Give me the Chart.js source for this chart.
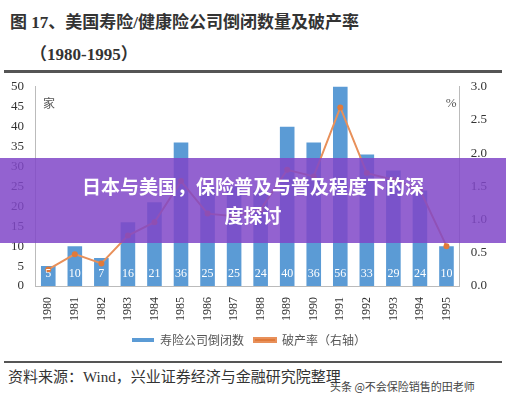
<!DOCTYPE html>
<html><head><meta charset="utf-8">
<script src="https://cdn.jsdelivr.net/npm/chart.js@4"></script>
<style>
body{margin:0;width:506px;height:400px;background:#fff;position:relative;overflow:hidden;font-family:"Liberation Serif","Noto Sans CJK SC",serif;}
#t1{position:absolute;left:10px;top:8px;font-size:17px;font-weight:bold;color:#333;}
#t2{position:absolute;left:30px;top:40px;font-size:17px;font-weight:bold;color:#333;}
.hr{position:absolute;left:4px;width:498px;height:3px;background:#555;}
#wrap{position:absolute;left:0;top:76px;width:506px;height:280px;}
#src{position:absolute;left:8px;top:365px;font-size:15px;color:#333;}
#wm{position:absolute;left:330px;top:378px;font-size:11px;color:#444;font-family:"Noto Sans CJK SC";}
#ban{position:absolute;left:0;top:158px;width:506px;height:85px;background:rgba(128,70,200,0.85);color:#fff;font-family:"Noto Sans CJK SC";font-weight:bold;font-size:19px;text-align:center;line-height:29px;padding-top:13px;box-sizing:border-box;}
</style></head><body>
<div id="t1">图 17、美国寿险/健康险公司倒闭数量及破产率</div>
<div id="t2">（1980-1995）</div>
<div class="hr" style="top:70px"></div>
<div id="wrap"><canvas id="c"></canvas></div>
<div class="hr" style="top:361px;height:2px"></div>
<div id="src">资料来源：Wind，兴业证券经济与金融研究院整理</div>
<div id="wm">头条 @不会保险销售的田老师</div>
<div id="ban">日本与美国，保险普及与普及程度下的深<br>度探讨</div>
<script>
const years=["1980","1981","1982","1983","1984","1985","1986","1987","1988","1989","1990","1991","1992","1993","1994","1995"];
const closures=[5,10,7,16,21,36,25,25,24,40,36,56,33,29,24,10];
const rate=[0.25,0.48,0.34,0.76,0.96,1.58,1.09,1.05,1.15,1.75,1.65,2.69,1.7,1.6,1.45,0.6];
const labelPlugin={id:'lbl',afterDatasetsDraw(ch){const ctx=ch.ctx;const m=ch.getDatasetMeta(1);ctx.save();ctx.fillStyle='#fff';ctx.font='12px "Liberation Serif"';ctx.textAlign='center';ctx.textBaseline='middle';m.data.forEach((b,i)=>ctx.fillText(closures[i],b.x,ch.scales.y.bottom-12));ctx.restore();}};
const axisTitle={id:'at',afterDraw(ch){const c=ch.ctx;c.save();c.fillStyle='#555';c.font='12px "Noto Sans CJK SC"';c.fillText('家',ch.chartArea.left+8,ch.chartArea.top+17);c.font='13px "Liberation Serif"';c.fillText('%',ch.chartArea.right-14,ch.chartArea.top+17);c.restore();}};
new Chart(document.getElementById('c'),{
data:{labels:years,datasets:[
{type:'line',label:'破产率（右轴）',data:rate,yAxisID:'y1',borderColor:'#e8905a',backgroundColor:'#e07a3a',borderWidth:2,pointRadius:3,pointBackgroundColor:'#e07a3a',pointBorderWidth:0,order:0},
{type:'bar',label:'寿险公司倒闭数',data:closures,yAxisID:'y',backgroundColor:'#5b9bd5',barPercentage:0.55,categoryPercentage:1,order:1}
]},
plugins:[labelPlugin,axisTitle],
options:{responsive:true,maintainAspectRatio:false,animation:false,
layout:{padding:{left:8,right:16,top:6,bottom:0}},
plugins:{legend:{position:'bottom',reverse:true,labels:{font:{family:'Noto Sans CJK SC',size:12},color:'#555',boxWidth:22,boxHeight:4}},tooltip:{enabled:false}},
scales:{
x:{grid:{display:false},border:{color:'#bbb'},ticks:{color:'#333',font:{family:'Liberation Serif',size:12},minRotation:90,maxRotation:90}},
y:{min:0,max:50,ticks:{stepSize:5,color:'#333',font:{family:'Liberation Serif',size:13}},grid:{display:false},border:{color:'#bbb'}},
y1:{position:'right',min:0,max:3,ticks:{stepSize:0.5,color:'#333',font:{family:'Liberation Serif',size:13},callback:v=>v.toFixed(1)},grid:{display:false},border:{color:'#bbb'}}
}}});
</script></body></html>
